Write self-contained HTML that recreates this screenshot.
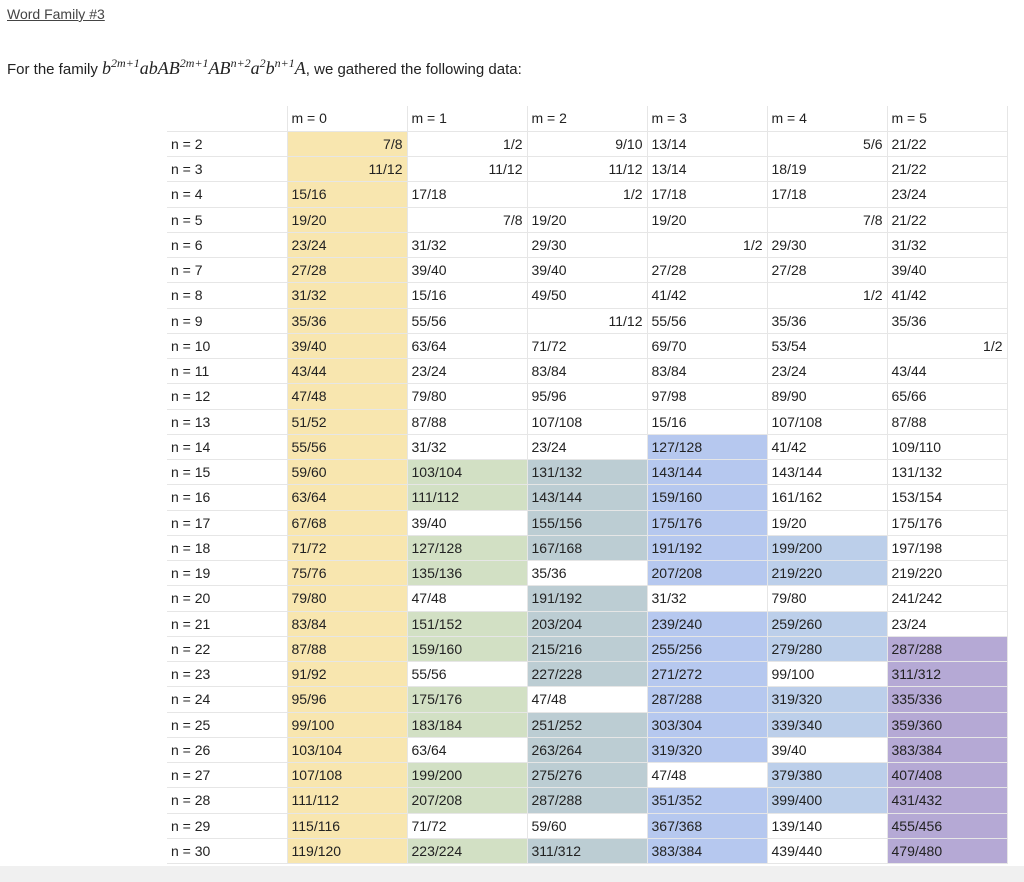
<!DOCTYPE html>
<html><head><meta charset="utf-8"><style>
body{margin:0;width:1024px;height:882px;background:#fff;position:relative;overflow:hidden;font-family:"Liberation Sans",Arial,sans-serif;color:#222}
.t1{position:absolute;left:7px;top:6px;font-size:14px;color:#444;text-decoration:underline}
.t2{position:absolute;left:7px;top:58px;font-size:15px;color:#222}
.m{font-family:"Liberation Serif",serif;font-style:italic;font-size:18px}
sup{font-size:12px;vertical-align:7px;line-height:0}
table{position:absolute;left:167px;top:106px;border-collapse:collapse;table-layout:fixed;font-size:14px}
td{width:120px;height:25.25px;padding:0 4px;box-sizing:border-box;border:1px solid #e6e6e6;white-space:nowrap;overflow:visible}
tr:first-child td{border-top:none}
tr td:first-child{border-left:none}
tr:first-child td:first-child{border-bottom:none;border-right:none}
td.r{text-align:right}
.y{background:#f8e6af}.g{background:#d2e0c4}.s{background:#bccdd3}.b{background:#b6c8ef}.c{background:#bccfea}.p{background:#b5a9d5}
.bot{position:absolute;left:0;top:866px;width:1024px;height:16px;background:#f0f0f0}
</style></head><body>
<div class="t1">Word Family #3</div>
<div class="t2">For the family <span class="m">b<sup>2m+1</sup>abAB<sup>2m+1</sup>AB<sup>n+2</sup>a<sup>2</sup>b<sup>n+1</sup>A</span>, we gathered the following data:</div>
<table>
<tr><td></td><td>m = 0</td><td>m = 1</td><td>m = 2</td><td>m = 3</td><td>m = 4</td><td>m = 5</td></tr>
<tr><td>n = 2</td><td class="y r">7/8</td><td class="r">1/2</td><td class="r">9/10</td><td>13/14</td><td class="r">5/6</td><td>21/22</td></tr>
<tr><td>n = 3</td><td class="y r">11/12</td><td class="r">11/12</td><td class="r">11/12</td><td>13/14</td><td>18/19</td><td>21/22</td></tr>
<tr><td>n = 4</td><td class="y">15/16</td><td>17/18</td><td class="r">1/2</td><td>17/18</td><td>17/18</td><td>23/24</td></tr>
<tr><td>n = 5</td><td class="y">19/20</td><td class="r">7/8</td><td>19/20</td><td>19/20</td><td class="r">7/8</td><td>21/22</td></tr>
<tr><td>n = 6</td><td class="y">23/24</td><td>31/32</td><td>29/30</td><td class="r">1/2</td><td>29/30</td><td>31/32</td></tr>
<tr><td>n = 7</td><td class="y">27/28</td><td>39/40</td><td>39/40</td><td>27/28</td><td>27/28</td><td>39/40</td></tr>
<tr><td>n = 8</td><td class="y">31/32</td><td>15/16</td><td>49/50</td><td>41/42</td><td class="r">1/2</td><td>41/42</td></tr>
<tr><td>n = 9</td><td class="y">35/36</td><td>55/56</td><td class="r">11/12</td><td>55/56</td><td>35/36</td><td>35/36</td></tr>
<tr><td>n = 10</td><td class="y">39/40</td><td>63/64</td><td>71/72</td><td>69/70</td><td>53/54</td><td class="r">1/2</td></tr>
<tr><td>n = 11</td><td class="y">43/44</td><td>23/24</td><td>83/84</td><td>83/84</td><td>23/24</td><td>43/44</td></tr>
<tr><td>n = 12</td><td class="y">47/48</td><td>79/80</td><td>95/96</td><td>97/98</td><td>89/90</td><td>65/66</td></tr>
<tr><td>n = 13</td><td class="y">51/52</td><td>87/88</td><td>107/108</td><td>15/16</td><td>107/108</td><td>87/88</td></tr>
<tr><td>n = 14</td><td class="y">55/56</td><td>31/32</td><td>23/24</td><td class="b">127/128</td><td>41/42</td><td>109/110</td></tr>
<tr><td>n = 15</td><td class="y">59/60</td><td class="g">103/104</td><td class="s">131/132</td><td class="b">143/144</td><td>143/144</td><td>131/132</td></tr>
<tr><td>n = 16</td><td class="y">63/64</td><td class="g">111/112</td><td class="s">143/144</td><td class="b">159/160</td><td>161/162</td><td>153/154</td></tr>
<tr><td>n = 17</td><td class="y">67/68</td><td>39/40</td><td class="s">155/156</td><td class="b">175/176</td><td>19/20</td><td>175/176</td></tr>
<tr><td>n = 18</td><td class="y">71/72</td><td class="g">127/128</td><td class="s">167/168</td><td class="b">191/192</td><td class="c">199/200</td><td>197/198</td></tr>
<tr><td>n = 19</td><td class="y">75/76</td><td class="g">135/136</td><td>35/36</td><td class="b">207/208</td><td class="c">219/220</td><td>219/220</td></tr>
<tr><td>n = 20</td><td class="y">79/80</td><td>47/48</td><td class="s">191/192</td><td>31/32</td><td>79/80</td><td>241/242</td></tr>
<tr><td>n = 21</td><td class="y">83/84</td><td class="g">151/152</td><td class="s">203/204</td><td class="b">239/240</td><td class="c">259/260</td><td>23/24</td></tr>
<tr><td>n = 22</td><td class="y">87/88</td><td class="g">159/160</td><td class="s">215/216</td><td class="b">255/256</td><td class="c">279/280</td><td class="p">287/288</td></tr>
<tr><td>n = 23</td><td class="y">91/92</td><td>55/56</td><td class="s">227/228</td><td class="b">271/272</td><td>99/100</td><td class="p">311/312</td></tr>
<tr><td>n = 24</td><td class="y">95/96</td><td class="g">175/176</td><td>47/48</td><td class="b">287/288</td><td class="c">319/320</td><td class="p">335/336</td></tr>
<tr><td>n = 25</td><td class="y">99/100</td><td class="g">183/184</td><td class="s">251/252</td><td class="b">303/304</td><td class="c">339/340</td><td class="p">359/360</td></tr>
<tr><td>n = 26</td><td class="y">103/104</td><td>63/64</td><td class="s">263/264</td><td class="b">319/320</td><td>39/40</td><td class="p">383/384</td></tr>
<tr><td>n = 27</td><td class="y">107/108</td><td class="g">199/200</td><td class="s">275/276</td><td>47/48</td><td class="c">379/380</td><td class="p">407/408</td></tr>
<tr><td>n = 28</td><td class="y">111/112</td><td class="g">207/208</td><td class="s">287/288</td><td class="b">351/352</td><td class="c">399/400</td><td class="p">431/432</td></tr>
<tr><td>n = 29</td><td class="y">115/116</td><td>71/72</td><td>59/60</td><td class="b">367/368</td><td>139/140</td><td class="p">455/456</td></tr>
<tr><td>n = 30</td><td class="y">119/120</td><td class="g">223/224</td><td class="s">311/312</td><td class="b">383/384</td><td>439/440</td><td class="p">479/480</td></tr>
</table>
<div class="bot"></div>
</body></html>
